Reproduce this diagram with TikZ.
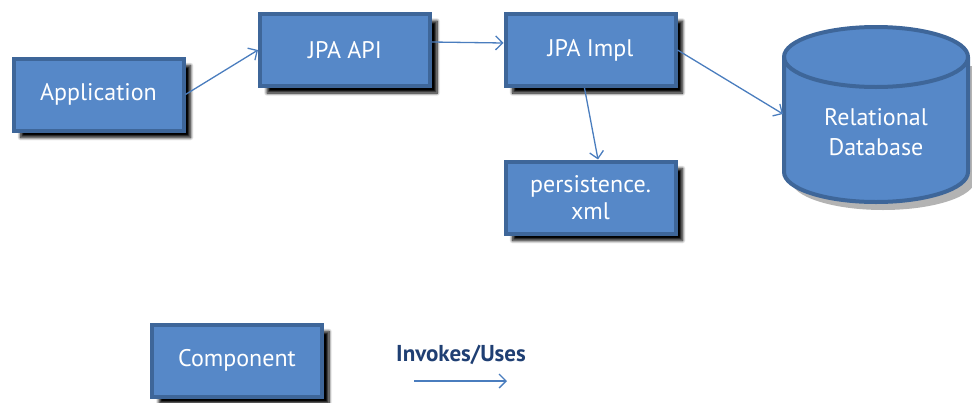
\documentclass[tikz,border=0pt]{standalone}
\usepackage{fontspec}
\setmainfont{PT Sans}
\usetikzlibrary{arrows.meta,shadows.blur}
\definecolor{boxfill}{HTML}{5688C8}
\definecolor{boxline}{HTML}{3E6699}
\definecolor{arrowcol}{HTML}{4A7DBE}
\definecolor{legendtext}{HTML}{1F3F73}
\tikzset{
  comp/.style={draw=boxline, line width=4pt, fill=boxfill, minimum width=170pt, minimum height=72pt,
    text=white, font=\fontsize{24}{27}\selectfont, align=center,
    blur shadow={shadow xshift=7pt, shadow yshift=-7pt, shadow blur radius=3pt, shadow blur steps=8, shadow opacity=100}},
  uses/.style={draw=arrowcol, line width=1.3pt, -{Straight Barb[length=7pt,width=14pt,line width=1.3pt]}},
}
\begin{document}
\begin{tikzpicture}[x=1pt,y=-1pt]
\useasboundingbox (0,0) rectangle (972,402);
\node[comp] (app)  at (98.5,94.5)  {Application};
\node[comp] (api)  at (345,50)     {JPA API};
\node[comp] (impl) at (590.5,50)   {JPA Impl};
\node[comp] (xml)  at (590.5,197.5){persistence.\\xml};
% database cylinder with its shadow
\fill[gray, opacity=0.6] (791,66) -- (791,180) arc[start angle=180,end angle=360,x radius=92pt,y radius=30pt] -- (975,66) -- cycle;
\path[draw=boxline, line width=4pt, fill=boxfill]
  (784,57) -- (784,172) arc[start angle=180,end angle=360,x radius=92pt,y radius=30pt]
  -- (968,57) arc[start angle=0,end angle=180,x radius=92pt,y radius=30pt] -- cycle;
\draw[boxline, line width=4pt] (784,57) arc[start angle=180,end angle=360,x radius=92pt,y radius=30pt];
\node[text=white, font=\fontsize{24}{30}\selectfont, align=center] (db) at (876,132) {Relational\\Database};
\coordinate (dbin) at (783,114);
% connectors
\draw[uses] (app.east) -- (api.west);
\draw[uses] (api.east |- 0,42) -- (impl.west |- 0,43);
\draw[uses] (impl.south west |- 0,88) ++(81,0) coordinate (ib) -- (xml.north -| 598,0);
\draw[uses] (impl.east) -- (dbin);
% legend
\node[comp] (leg) at (237,360.5) {Component};
\node[text=legendtext, font=\fontsize{23}{25}\selectfont\bfseries] (legtxt) at (461,355) {Invokes/Uses};
\coordinate (la) at (414,381);
\coordinate (lb) at (507,381);
\draw[uses] (la) -- (lb);
\end{tikzpicture}
\end{document}
